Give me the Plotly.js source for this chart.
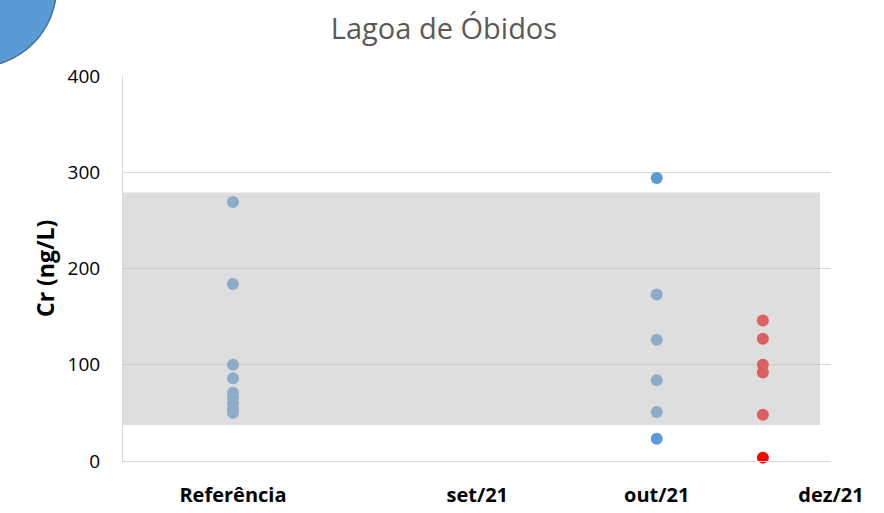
<!DOCTYPE html>
<html>
<head>
<meta charset="utf-8">
<script src="https://cdn.plot.ly/plotly-3.0.1.min.js"></script>
<style>html,body{margin:0;padding:0;background:#fff;}#chart{width:884px;height:513px;}</style>
</head>
<body>
<div id="chart"></div>
<script>
// Category tick labels and their slot positions on the x axis
const tickLabels = ["Referência", "set/21", "out/21", "dez/21"];
const tickSlots = [0.568, 1.97, 3, 4];

// Referência series
const refSlot = 0.568;
const refValues = [269, 184, 100, 86, 71, 66, 60, 54, 50];

// out/21 series (blue)
const outSlot = 3;
const outValues = [294, 173, 126, 84, 51, 23];

// nov series (red, unlabeled slot)
const redSlot = 3.609;
const redValues = [146, 127, 100, 92, 48, 3.5];

// Reference band (gray)
const bandLow = 37.5;
const bandHigh = 279;

const traces = [
  {x: refValues.map(() => refSlot), y: refValues, type: 'scatter', mode: 'markers',
   marker: {color: '#5B9BD5', size: 12}, cliponaxis: false, hoverinfo: 'y'},
  {x: outValues.map(() => outSlot), y: outValues, type: 'scatter', mode: 'markers',
   marker: {color: '#5B9BD5', size: 12}, cliponaxis: false, hoverinfo: 'y'},
  {x: redValues.map(() => redSlot), y: redValues, type: 'scatter', mode: 'markers',
   marker: {color: '#FF0000', size: 12}, cliponaxis: false, hoverinfo: 'y'}
];

const fontFam = '"Open Sans", "Noto Sans", sans-serif';

const layout = {
  width: 884, height: 513,
  margin: {l: 123, r: 53, t: 76, b: 52},
  paper_bgcolor: '#ffffff', plot_bgcolor: '#ffffff',
  showlegend: false,
  title: {text: 'Lagoa de Óbidos', xref: 'paper', x: (444 - 123) / 708, xanchor: 'center',
          yref: 'container', y: 1 - 29 / 513, yanchor: 'middle',
          font: {family: fontFam, size: 29, color: '#595959'}},
  xaxis: {range: [-0.063, 4.0], tickmode: 'array', tickvals: tickSlots, ticktext: tickLabels,
          showgrid: false, zeroline: false, showline: true, linecolor: '#D9D9D9', linewidth: 1,
          ticks: '', ticklabelstandoff: 16,
          tickfont: {family: fontFam, size: 20, color: '#000000', weight: 'bold'}},
  yaxis: {range: [0, 400], tickvals: [0, 100, 200, 300, 400], showgrid: true, gridcolor: '#D9D9D9',
          zeroline: false, showline: true, linecolor: '#D9D9D9', linewidth: 1, ticks: '',
          ticklabelstandoff: 18,
          tickfont: {family: fontFam, size: 19, color: '#000000'}},
  shapes: [
    {type: 'rect', xref: 'paper', yref: 'y', x0: 0, x1: 0.9845, y0: bandLow, y1: bandHigh,
     fillcolor: 'rgba(190,190,190,0.5)', line: {width: 0}, layer: 'above'},
    {type: 'circle', xref: 'paper', yref: 'paper', x0: -0.3199, x1: -0.0939, y0: 1.0234, y1: 1.439,
     fillcolor: '#5B9BD5', line: {color: '#41719C', width: 1.5}, layer: 'above'}
  ],
  annotations: [
    {text: '<b>Cr (ng/L)</b>', xref: 'paper', yref: 'paper', x: (45 - 123) / 708, y: (461 - 269) / 385,
     xanchor: 'center', yanchor: 'middle', textangle: -90, showarrow: false,
     font: {family: fontFam, size: 23, color: '#000000'}}
  ]
};

Plotly.newPlot('chart', traces, layout, {displayModeBar: false, staticPlot: true});
</script>
</body>
</html>
